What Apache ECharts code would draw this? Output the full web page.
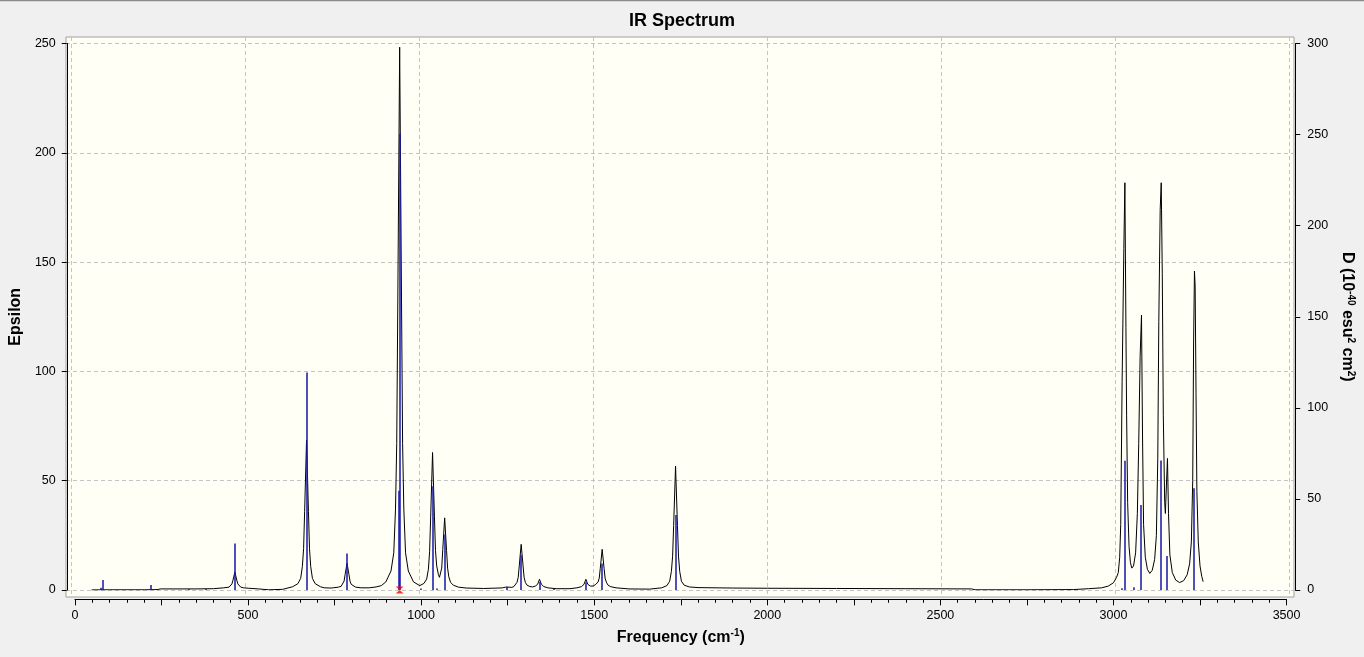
<!DOCTYPE html>
<html>
<head>
<meta charset="utf-8">
<script src="https://cdn.jsdelivr.net/npm/echarts@6/dist/echarts.min.js"></script>
<style>
html,body{margin:0;padding:0;background:#f0f0f0;}
#c{width:1364px;height:657px;}
</style>
</head>
<body>
<div id="c"></div>
<script>
// ---- spectrum curve (Frequency cm-1, Epsilon) ----
const curveFreq = [48,100,200,240,246,350,400,430,445,450,453.5,456.5,462,467.5,470.5,474,479,487,502,530,560,600,
629,644,652,657,660.5,663.5,669,674.5,677.5,681,686,694,709,720,740,
746,761,769,774,777.5,780.5,786,791.5,794.5,798,803,811,826,850,870,885,
898,913,921,926,929.5,932.5,938,943.5,946.5,950,955,963,978,996,
1008,1016,1021,1024.5,1027.5,1033,1038.5,1041.5,1045,1050,1053,1056,1059.5,1062.5,1068,1073.5,1076.5,1080,1085,1093,1108,1130,1180,1225,
1235,1244,1249,1254,1262,1268,1272,1277,1280.5,1283.5,1289,1294.5,1297.5,1301,1306,1314,
1322,1330,1336.5,1342,1347.5,1354,1366,1390,1430,
1450,1463,1470.5,1476,1481.5,1489,1497,1503,1511,1514.5,1517.5,1523,1528.5,1531.5,1535,1540,1548,1563,1600,1660,
1695,1710,1718,1723,1726.5,1729.5,1735,1740.5,1743.5,1747,1752,1760,1775,1800,1900,2000,2200,2400,2590,2600,2750,2885,2928,2966,2985,3000,
3009,3014,3018,3021,3025,3030,3033,3036,3038,3041,3045,3049,3053,3058,3064,3069,3073,3077,3081,3084,3087,3092,3098,3105,
3112,3119,3124,3128,3131,3135,3138,3141,3144,3148,3150,3153,3156,3159,3163,3170,3180,3191,3203,3213,3220,3225,3229,3231.5,3234,3236,3238.5,3241,3245,3250,3255,3259];
const curveEps = [0.05,0.1,0.1,0.2,0.5,0.5,0.6,1.0,1.3,1.9,2.8,4.5,8.2,4.5,2.8,1.9,1.3,1.0,0.8,0.5,0.1,0.3,
1.5,2.9,5.3,10.8,19,36,68.6,36,19,10.8,5.3,2.9,1.5,1.0,0.9,
1.0,1.3,1.7,2.6,4.1,7.1,12.2,7.1,4.1,2.6,1.7,1.3,1.0,1.0,1.4,2.0,
3.7,8.7,17,37,67,129,248.3,129,67,37,17,8.7,3.7,2.0,
3.0,5.0,9.5,17.5,33,62.9,33.5,18,11,7,5.8,6.5,10,18.5,33,18,10,6,3.5,2.2,1.3,0.9,0.7,0.9,
1.0,1.3,2.0,1.3,1.2,1.6,2.2,3.5,5.8,11,20.9,11,5.8,3.5,2.2,1.6,
1.4,1.8,2.6,4.9,2.6,1.6,1.0,0.6,0.6,
1.0,1.5,2.6,4.9,2.6,1.8,1.8,2.4,3.6,5.4,9.9,18.6,9.9,5.4,3.6,2.2,1.5,1.0,0.5,0.4,
1.0,2.0,4.0,8.5,15.5,29.5,56.7,29.5,15.5,8.5,4.0,2.2,1.4,1.1,0.9,0.8,0.7,0.6,0.5,0.1,0.1,0.2,0.6,1.0,1.8,3.3,
5.8,8,15,30,95.3,156.3,186.3,120,80,40,20,12.5,10,11,17,35,67,106.7,125.8,70,30,15,9.5,7.6,
9,14,25,60,122.7,174.1,186.3,144.9,80,40,35,48,60.2,35,16,8,4.5,3.4,4.3,7,12,22,50,113,145.9,139,90,45,22,11,6.3,3.8];

// ---- stick spectrum (Frequency cm-1, D in 1e-40 esu^2 cm^2) ----
const stickFreq = [74,80,221,330,378,462,669,787,935,939,1000,1033,1046,1068,1249,1289,1342,1383,1476,1523,1735,3026,3032,3060,3081,3138,3155,3234];
const stickD    = [1.3,5.5,2.7,0.6,0.5,25.5,119.4,20.1,54.5,250.4,0.8,57,0.8,30.4,1.8,19.2,4.4,0.6,4.2,14.6,41.2,1.0,71.0,1.5,46.7,71.1,18.7,55.8];

// ---- red marker ----
const markerFreq = [938];
const markerEps = [0];

// ---- tick values ----
const xGridValues = [0,500,1000,1500,2000,2500,3000,3500];
const yGridValues = [0,50,100,150,200,250];

const FONT = "'Liberation Sans', Arial, sans-serif";
const STICK = '#1616a8';
const chart = echarts.init(document.getElementById('c'), null, {renderer:'canvas'});

const curveData = curveFreq.map((f,i)=>[f, curveEps[i]]);
const stickData = stickFreq.map((f,i)=>[f, stickD[i]]);
const markerData = markerFreq.map((f,i)=>[f, markerEps[i]]);

const option = {
  backgroundColor: '#f0f0f0',
  animation: false,
  title: {
    text: 'IR Spectrum', left: 'center', top: 7,
    textStyle: {fontFamily: FONT, fontSize: 18, fontWeight: 'bold', color: '#000'}
  },
  graphic: [{type:'line', shape:{x1:0,y1:0.5,x2:1364,y2:0.5}, style:{stroke:'#8a8a8a', lineWidth:1.5}, silent:true}],
  grid: [
    {left: 66, top: 37, width: 1228, height: 560, show: true, backgroundColor: '#fffff6', borderColor: '#a0a0a0', borderWidth: 1, containLabel:false},
    {left: 71.5, top: 43.5, width: 1217.5, height: 546.5, containLabel:false}
  ],
  xAxis: [
    {gridIndex:0, type:'value', min:-15.81, max:3514.3,
      axisLine:{show:false}, axisLabel:{show:false},
      axisTick:{show:false, customValues: xGridValues},
      splitLine:{show:true, lineStyle:{color:'#c4c4c4', type:[4,3], width:1}}},
    {gridIndex:1, type:'value', min:0, max:3500, interval:250, position:'bottom', offset:9.3,
      axisLine:{show:true, onZero:false, lineStyle:{color:'#000', width:1}},
      axisTick:{show:true, inside:false, length:6, lineStyle:{color:'#000'}},
      minorTick:{show:true, splitNumber:5, length:3.5, lineStyle:{color:'#000'}},
      axisLabel:{show:true, margin:10, color:'#000', fontFamily:FONT, fontSize:12.5,
        formatter: v => (v % 500 === 0 ? String(v) : '')},
      splitLine:{show:false},
      name: 'Frequency (cm{sup|-1})', nameLocation:'middle', nameGap:29,
      nameTextStyle:{fontFamily:FONT, fontSize:16, fontWeight:'bold', color:'#000',
        rich:{sup:{fontFamily:FONT, fontSize:10, fontWeight:'bold', color:'#000', verticalAlign:'top', padding:[0,0,8,0]}}}}
  ],
  yAxis: [
    {gridIndex:0, type:'value', min:-3.2, max:252.97,
      axisLine:{show:false}, axisLabel:{show:false},
      axisTick:{show:false, customValues: yGridValues},
      splitLine:{show:true, lineStyle:{color:'#c4c4c4', type:[4,3], width:1}}},
    {gridIndex:1, type:'value', min:0, max:250, interval:50, position:'left', offset:8.2,
      axisLine:{show:true, onZero:false, lineStyle:{color:'#000', width:1}},
      axisTick:{show:true, length:5, lineStyle:{color:'#000'}},
      axisLabel:{margin:11, color:'#000', fontFamily:FONT, fontSize:12.5},
      splitLine:{show:false},
      name:'Epsilon', nameLocation:'middle', nameGap:39, nameRotate:90,
      nameTextStyle:{fontFamily:FONT, fontSize:16, fontWeight:'bold', color:'#000'}},
    {gridIndex:1, type:'value', min:0, max:300, interval:50, position:'right', offset:8.7,
      axisLine:{show:true, onZero:false, lineStyle:{color:'#000', width:1}},
      axisTick:{show:true, length:5, lineStyle:{color:'#000'}},
      axisLabel:{margin:12, color:'#000', fontFamily:FONT, fontSize:12.5},
      splitLine:{show:false},
      name:'D (10{sup|-40} esu{sup|2} cm{sup|2})', nameLocation:'middle', nameGap:40, nameRotate:-90,
      nameTextStyle:{fontFamily:FONT, fontSize:16, fontWeight:'bold', color:'#000',
        rich:{sup:{fontFamily:FONT, fontSize:10, fontWeight:'bold', color:'#000', verticalAlign:'top', padding:[0,0,8,0]}}}}
  ],
  series: [
    {type:'line', xAxisIndex:1, yAxisIndex:1, data: curveData, showSymbol:false, symbol:'none',
      lineStyle:{color:'#000', width:1}, itemStyle:{color:'#000'}, z:2, silent:true},
    {type:'custom', xAxisIndex:1, yAxisIndex:2, data: stickData, z:10, silent:true,
      itemStyle:{color: STICK},
      renderItem: function(params, api){
        const p0 = api.coord([api.value(0), 0]);
        const p1 = api.coord([api.value(0), api.value(1)]);
        const x = Math.round(p0[0]);
        return {type:'line', z2: 10, shape:{x1:x, y1:p0[1], x2:x, y2:p1[1]},
          style:{stroke: STICK, fill: null, lineWidth: 1.5}};
      }},
    {type:'scatter', xAxisIndex:1, yAxisIndex:1, data: markerData, clip:false, z:12, silent:true,
      symbol:'path://M0,0 L10,0 L0,10 L10,10 Z', symbolSize:[8,7],
      itemStyle:{color:'#ff0000'}}
  ]
};
chart.setOption(option);
</script>
</body>
</html>
